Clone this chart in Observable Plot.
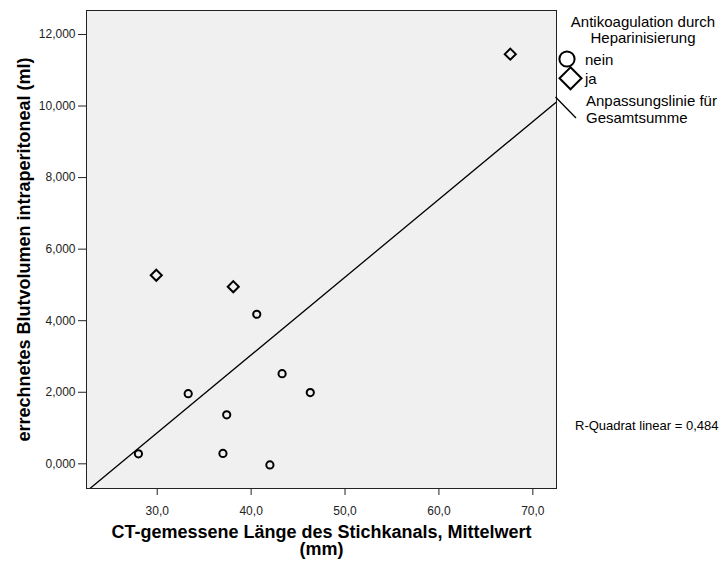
<!DOCTYPE html>
<html>
<head>
<meta charset="utf-8">
<script src="https://cdn.jsdelivr.net/npm/d3@7"></script>
<script src="https://cdn.jsdelivr.net/npm/@observablehq/plot@0.6"></script>
<style>
  body { margin: 0; background: #fff; }
  #chart { position: relative; width: 724px; height: 561px; font-family: "Liberation Sans", Arial, sans-serif; }
  #legend { position: absolute; left: 0; top: 0; pointer-events: none; }
</style>
</head>
<body>
<div id="chart"></div>
<script>
// ---- data ----
const laenge  = [28.0, 33.3, 37.0, 37.4, 40.6, 42.0, 43.3, 46.3, 29.9, 38.1, 67.6];
const volumen = [0.28, 1.96, 0.29, 1.37, 4.18, -0.03, 2.52, 1.99, 5.27, 4.95, 11.45];
const heparin = ["nein", "nein", "nein", "nein", "nein", "nein", "nein", "nein", "ja", "ja", "ja"];

const groups = ["nein", "ja"];
const xTicks = [30, 40, 50, 60, 70];
const yTicks = [0, 2, 4, 6, 8, 10, 12];

const xLabel = "CT-gemessene Länge des Stichkanals, Mittelwert";
const xLabelUnit = "(mm)";
const yLabel = "errechnetes Blutvolumen intraperitoneal (ml)";
const legendTitle = ["Antikoagulation durch", "Heparinisierung"];
const fitLabel = ["Anpassungslinie für", "Gesamtsumme"];
const rSquaredLabel = "R-Quadrat linear = 0,484";

// ---- derived ----
const data = laenge.map((x, i) => ({x, y: volumen[i], g: heparin[i]}));
const mx = d3.mean(laenge), my = d3.mean(volumen);
const slope = d3.sum(data, d => (d.x - mx) * (d.y - my)) / d3.sum(data, d => (d.x - mx) ** 2);
const intercept = my - slope * mx;
const xDomain = [22.47, 72.52];
const yDomain = [-0.69, 12.67];
const fit = xDomain.map(x => ({x, y: intercept + slope * x}));

const font = '"Liberation Sans", Arial, sans-serif';

const plot = Plot.plot({
  width: 724,
  height: 561,
  marginLeft: 86,
  marginRight: 168,
  marginTop: 10,
  marginBottom: 73,
  style: {fontFamily: font, fontSize: "12px", color: "#222", background: "#fff"},
  x: {domain: xDomain, ticks: xTicks, tickFormat: d => d.toFixed(1).replace(".", ","), tickSize: 7, tickPadding: 11, label: null},
  y: {domain: yDomain, ticks: yTicks, tickFormat: d => d.toFixed(3).replace(".", ","), tickSize: 8, tickPadding: 3, label: null},
  marks: [
    Plot.frame({fill: "#f0f0f0"}),
    Plot.line(fit, {x: "x", y: "y", stroke: "#000", strokeWidth: 1.3, clip: true}),
    Plot.dot(data.filter(d => d.g === groups[0]), {x: "x", y: "y", symbol: "circle", r: 3.6, stroke: "#000", strokeWidth: 2, fill: "none"}),
    Plot.dot(data.filter(d => d.g === groups[1]), {x: "x", y: "y", symbol: "diamond2", r: 5, stroke: "#000", strokeWidth: 2, fill: "none"}),
    Plot.frame({stroke: "#222", strokeWidth: 1}),
    Plot.text([xLabel], {text: d => d, frameAnchor: "bottom", dy: 44, fontSize: 18, fontWeight: "bold", fill: "#000", textAnchor: "middle", lineAnchor: "middle"}),
    Plot.text([xLabelUnit], {text: d => d, frameAnchor: "bottom", dy: 61, fontSize: 18, fontWeight: "bold", fill: "#000", textAnchor: "middle", lineAnchor: "middle"}),
    Plot.text([yLabel], {text: d => d, frameAnchor: "left", dx: -62, rotate: -90, fontSize: 18, fontWeight: "bold", fill: "#000", textAnchor: "middle", lineAnchor: "middle"})
  ]
});

const chart = document.getElementById("chart");
chart.appendChild(plot);

// ---- legend overlay ----
const leg = d3.create("svg")
  .attr("id", "legend")
  .attr("width", 724).attr("height", 561)
  .style("font-family", font)
  .style("font-size", "15px");

leg.append("text").attr("x", 643).attr("y", 26.5).attr("text-anchor", "middle").text(legendTitle[0]);
leg.append("text").attr("x", 643).attr("y", 43).attr("text-anchor", "middle").text(legendTitle[1]);

leg.append("circle").attr("cx", 567).attr("cy", 59).attr("r", 7.6)
  .attr("fill", "none").attr("stroke", "#000").attr("stroke-width", 2);
leg.append("text").attr("x", 585).attr("y", 64.5).text(groups[0]);

const dcx = 570.5, dcy = 78.3, dh = 11;
leg.append("path").attr("d", `M${dcx},${dcy - dh}L${dcx + dh},${dcy}L${dcx},${dcy + dh}L${dcx - dh},${dcy}Z`)
  .attr("fill", "none").attr("stroke", "#000").attr("stroke-width", 2);
leg.append("text").attr("x", 585).attr("y", 84).text(groups[1]);

leg.append("line").attr("x1", 555.5).attr("y1", 97).attr("x2", 576).attr("y2", 118)
  .attr("stroke", "#000").attr("stroke-width", 1.3);
leg.append("text").attr("x", 586).attr("y", 106).text(fitLabel[0]);
leg.append("text").attr("x", 586).attr("y", 122.5).text(fitLabel[1]);

leg.append("text").attr("x", 575).attr("y", 429.5).style("font-size", "13px").text(rSquaredLabel);

chart.appendChild(leg.node());
</script>
</body>
</html>
